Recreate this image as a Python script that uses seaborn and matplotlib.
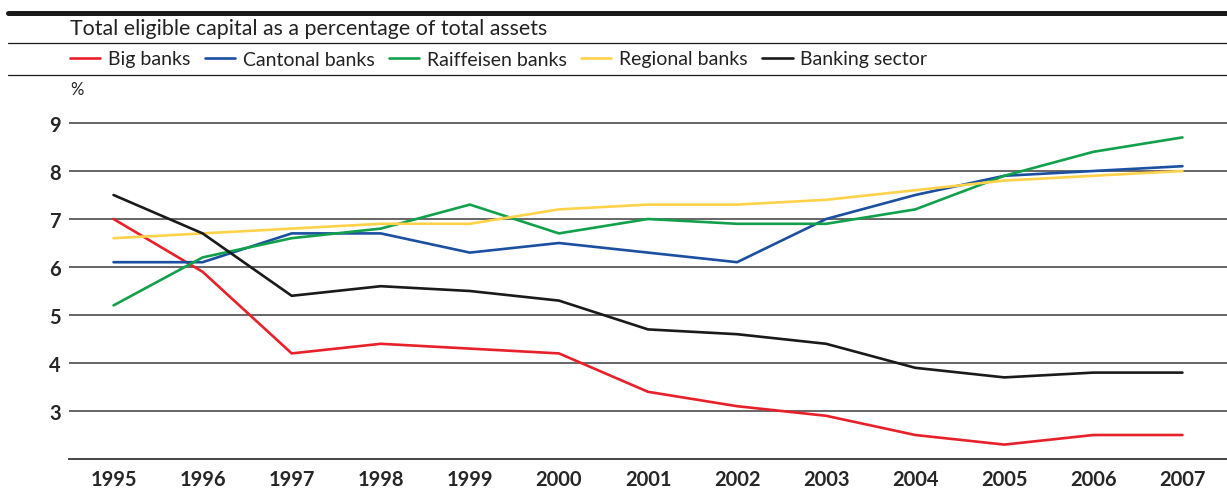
import matplotlib
matplotlib.use("Agg")
import matplotlib.pyplot as plt
from matplotlib.lines import Line2D
from matplotlib.ticker import FixedLocator
import seaborn as sns
import pandas as pd

years = list(range(1995, 2008))
big_banks = [7.0, 5.9, 4.2, 4.4, 4.3, 4.2, 3.4, 3.1, 2.9, 2.5, 2.3, 2.5, 2.5]
cantonal_banks = [6.1, 6.1, 6.7, 6.7, 6.3, 6.5, 6.3, 6.1, 7.0, 7.5, 7.9, 8.0, 8.1]
raiffeisen_banks = [5.2, 6.2, 6.6, 6.8, 7.3, 6.7, 7.0, 6.9, 6.9, 7.2, 7.9, 8.4, 8.7]
regional_banks = [6.6, 6.7, 6.8, 6.9, 6.9, 7.2, 7.3, 7.3, 7.4, 7.6, 7.8, 7.9, 8.0]
banking_sector = [7.5, 6.7, 5.4, 5.6, 5.5, 5.3, 4.7, 4.6, 4.4, 3.9, 3.7, 3.8, 3.8]

series_names = ["Big banks", "Cantonal banks", "Raiffeisen banks", "Regional banks", "Banking sector"]
series_values = [big_banks, cantonal_banks, raiffeisen_banks, regional_banks, banking_sector]
colors = ["#e8202a", "#1b4fa0", "#12a04c", "#ffd24a", "#1a1a1a"]
y_ticks = [3, 4, 5, 6, 7, 8, 9]
title = "Total eligible capital as a percentage of total assets"

df = pd.concat(
    [pd.DataFrame({"year": years, "value": v, "series": n}) for n, v in zip(series_names, series_values)],
    ignore_index=True,
)

sns.set_style("white")
plt.rcParams["font.family"] = ["Lato", "DejaVu Sans"]
plt.rcParams["text.color"] = "#222222"

W, H = 1227, 489
fig = plt.figure(figsize=(W / 100, H / 100), dpi=100)
ax = fig.add_axes([69 / W, 29 / H, (W - 69) / W, 360 / H])

# Grid lines behind the series
for y in y_ticks:
    ax.axhline(y, color="#4d4d4d", lw=1.2, zorder=0)

sns.lineplot(
    data=df, x="year", y="value", hue="series", hue_order=series_names,
    palette=colors, linewidth=1.9, ax=ax, zorder=3,
)

ax.set_xlim(1994.5, 2007.5)
ax.set_ylim(2, 9.5)
ax.set_xlabel("")
ax.set_ylabel("")

for s in ["top", "right", "left"]:
    ax.spines[s].set_visible(False)
ax.spines["bottom"].set_color("#444444")
ax.spines["bottom"].set_linewidth(1.4)

ax.set_xticks(years)
ax.set_xticklabels([str(y) for y in years], fontsize=14.5, fontweight="bold")
ax.xaxis.set_minor_locator(FixedLocator([y + 0.5 for y in range(1994, 2008)]))
ax.tick_params(axis="x", which="major", length=0, pad=7)
ax.tick_params(axis="x", which="minor", direction="in", length=7, width=1.2, color="#333333")

ax.set_yticks(y_ticks)
ax.set_yticklabels([str(y) for y in y_ticks], fontsize=14.5, fontweight="bold")
ax.tick_params(axis="y", length=0, pad=6)

# Header rules
def hline(ypix, lw, x0=8):
    fig.add_artist(Line2D([x0 / W, 1.0], [1 - ypix / H, 1 - ypix / H],
                          transform=fig.transFigure, color="#1a1a1a", lw=lw))

hline(14, 3.6)
hline(43.5, 0.9)
hline(75.5, 0.9)

fig.text(70 / W, 1 - 29 / H, title, fontsize=15.4, va="center", ha="left")
fig.text(70 / W, 1 - 90 / H, "%", fontsize=12, va="center", ha="left")

sns.move_legend(
    ax, "center left", bbox_to_anchor=(62 / W, 1 - 60 / H), bbox_transform=fig.transFigure,
    ncol=5, frameon=False, title=None, fontsize=14,
    handlelength=1.55, handletextpad=0.4, columnspacing=0.75, borderaxespad=0,
)

fig.savefig("out.png", dpi=100)
